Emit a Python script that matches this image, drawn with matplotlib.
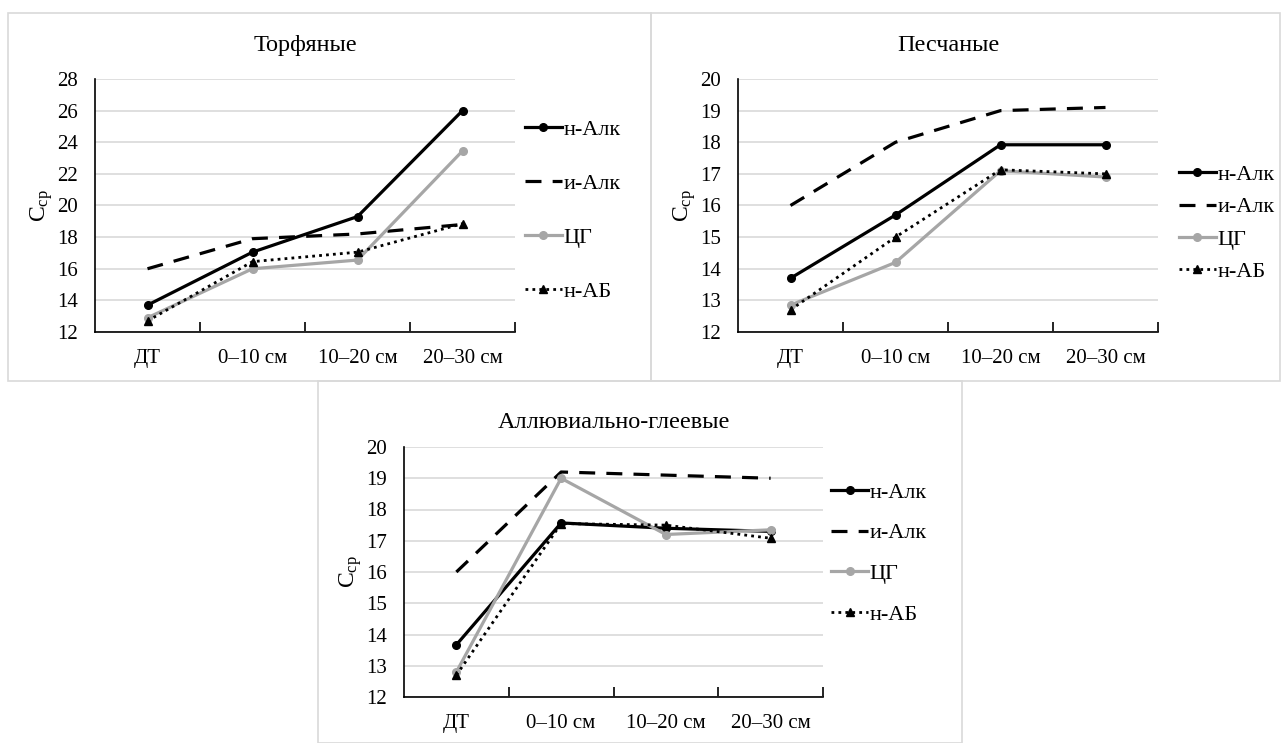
import matplotlib
matplotlib.use("Agg")
import matplotlib.pyplot as plt
from matplotlib.patches import Rectangle

plt.rcParams["font.family"] = ["Liberation Serif", "DejaVu Serif"]
plt.rcParams["mathtext.fontset"] = "custom"
plt.rcParams["mathtext.rm"] = "Liberation Serif"

# Categories (depth) and series labels
categories = ["ДТ", "0–10 см", "10–20 см", "20–30 см"]
seriesNames = ["н-Алк", "и-Алк", "ЦГ", "н-АБ"]

# Торфяные
peatNAlk = [13.7, 17.05, 19.3, 26.0]
peatIAlk = [16.0, 17.9, 18.2, 18.8]
peatCG = [12.9, 16.0, 16.55, 23.45]
peatNAB = [12.7, 16.45, 17.05, 18.85]

# Песчаные
sandNAlk = [13.7, 15.7, 17.92, 17.92]
sandIAlk = [16.0, 18.0, 19.0, 19.1]
sandCG = [12.85, 14.2, 17.1, 16.9]
sandNAB = [12.7, 15.0, 17.13, 17.0]

# Аллювиально-глеевые
alluvNAlk = [13.67, 17.57, 17.4, 17.3]
alluvIAlk = [16.0, 19.2, 19.1, 19.0]
alluvCG = [12.8, 19.0, 17.2, 17.35]
alluvNAB = [12.7, 17.55, 17.5, 17.08]

W, H = 1282, 743
fig = plt.figure(figsize=(W / 100, H / 100), dpi=100)

def px(x0, y0, x1, y1):
    # pixel box -> figure fraction [left, bottom, width, height]
    return [x0 / W, 1 - y1 / H, (x1 - x0) / W, (y1 - y0) / H]

# Panel frames (light gray borders)
for (x0, y0, x1, y1) in [(8, 13, 651, 381), (651, 13, 1280, 381), (318, 381, 962, 743)]:
    fig.patches.append(Rectangle((x0 / W, 1 - y1 / H), (x1 - x0) / W, (y1 - y0) / H,
                                 transform=fig.transFigure, fill=False,
                                 edgecolor="#d9d9d9", linewidth=1.2))

def drawPanel(box, title, values, ylim, ystep, legendAnchor, legendSpacing, titlePad):
    ax = fig.add_axes(px(*box))
    x = range(len(categories))
    nAlk, iAlk, cg, nAB = values
    ax.plot(x, nAlk, color="black", linewidth=2.3, marker="o", markersize=5.5, label=seriesNames[0])
    ax.plot(x, iAlk, color="black", linewidth=2.3, dashes=(5, 3.5), label=seriesNames[1])
    ax.plot(x, cg, color="#a6a6a6", linewidth=2.3, marker="o", markersize=5.5, label=seriesNames[2])
    ax.plot(x, nAB, color="black", linewidth=2.0, linestyle=(0, (1, 1.5)), marker="^",
            markersize=5.5, label=seriesNames[3])

    ax.set_xlim(-0.5, len(categories) - 0.5)
    ax.set_ylim(*ylim)
    ax.set_yticks(range(ylim[0], ylim[1] + 1, ystep))
    ax.set_xticks(list(x))
    ax.set_xticklabels(categories, fontsize=15)
    ax.set_xticks([0.5, 1.5, 2.5, 3.5], minor=True)
    ax.tick_params(axis="x", which="major", length=0, pad=12)
    ax.tick_params(axis="x", which="minor", direction="in", length=7, width=1.2)
    ax.tick_params(axis="y", length=0, labelsize=15, pad=12)
    ax.grid(axis="y", color="#d9d9d9", linewidth=1.2)
    ax.set_axisbelow(True)
    for s in ["top", "right"]:
        ax.spines[s].set_visible(False)
    ax.spines["left"].set_linewidth(1.2)
    ax.spines["bottom"].set_linewidth(1.2)
    ax.set_ylabel(r"$\mathregular{C_{ср}}$", fontsize=17, labelpad=2)
    ax.set_title(title, fontsize=17.5, pad=titlePad)
    ax.legend(loc="center left", bbox_to_anchor=legendAnchor, frameon=False, fontsize=16,
              handlelength=1.65, handletextpad=0.08, labelspacing=legendSpacing,
              borderaxespad=0, borderpad=0)
    return ax

drawPanel((95, 79, 515, 332), "Торфяные", [peatNAlk, peatIAlk, peatCG, peatNAB],
          (12, 28), 2, (1.024, 0.48), 1.5, 20)
drawPanel((738, 79, 1158, 332), "Песчаные", [sandNAlk, sandIAlk, sandCG, sandNAB],
          (12, 20), 1, (1.05, 0.43), 0.53, 20)
drawPanel((404, 447, 823, 697), "Аллювиально-глеевые", [alluvNAlk, alluvIAlk, alluvCG, alluvNAB],
          (12, 20), 1, (1.02, 0.574), 0.9, 14)

fig.savefig("out.png", dpi=100)
